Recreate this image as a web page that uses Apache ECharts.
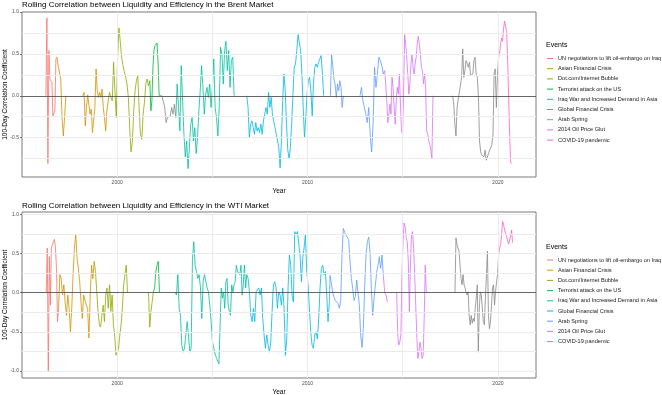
<!DOCTYPE html>
<html><head><meta charset="utf-8">
<script src="https://cdn.jsdelivr.net/npm/echarts@6/dist/echarts.min.js"></script>
<style>html,body{margin:0;padding:0;background:#fff}#c{width:662px;height:395px}</style>
</head><body><div id="c"></div>
<script>
// ---------- categories ----------
const events = ["UN negotiations to lift oil-embargo on Iraq","Asian Financial Crisis","Dot.com/Internet Bubble","Terrorist attack on the US","Iraq War and Increased Demand in Asia","Global Financial Crisis","Arab Spring","2014 Oil Price Glut","COVID-19 pandemic"];
const eventColors = ["#F8766D","#D39200","#93AA00","#00BA38","#00C19F","#00B9E3","#619CFF","#DB72FB","#FF61C3"];
const noEventColor = "#8A8A8A";
const titles = ["Rolling Correlation between Liquidity and Efficiency in the Brent Market","Rolling Correlation between Liquidity and Efficiency in the WTI Market"];
const xLabels = [2000, 2010, 2020];

// ---------- Brent series values (evenly sampled between start and end year) ----------
const brentUN = [0,0.93,-0.81,0.54,0.20,0.22,0.16,-0.24,-0.22,-0.18,0.44,0.46];
const brentAsian1 = [0.46,0.36,0.34,0.20,-0.26,-0.48,-0.26,0];
const brentAsian2 = [0,0.04,-0.36,-0.14,0.01,0.03,-0.22,-0.16,-0.44,-0.46,-0.14,0.32,0.06,-0.02,0.04,-0.02,0.08,-0.14,-0.26,-0.42,-0.18];
const brentDotcom = [-0.18,-0.06,0.04,-0.02,-0.06,0.40,0.06,-0.26,0.46,0.81,0.65,0.46,0.36,0.29,0.22,0.14,-0.02,-0.38,-0.67,-0.54,-0.18,0.06,0.18,0.24,-0.14,-0.46,-0.52,-0.22,-0.08,0.14,0.20,0.12,0.18];
const brentTerror = [0.18,-0.18,-0.06,0.34,0.54,0.60,0.58,0.63,0.38,0];
const brentNone1 = [0,0,0,0.01,-0.14,-0.32,-0.26,-0.28,-0.24,-0.14,-0.22,-0.10,-0.26];
const brentIraq = [-0.26,0.14,-0.14,-0.42,0.36,-0.06,-0.46,-0.73,-0.54,-0.87,-0.62,-0.34,-0.26,-0.54,-0.38,-0.69,-0.50,-0.18,0.06,0.36,0.10,-0.22,0.02,0.10,-0.02,0.14,-0.14,0.10,0.44,-0.14,-0.26,-0.48,-0.14,0.58,0.50,0.14,0.54,0.65,0.30,0.54,0.10,0.42,0.46,0];
const brentGFC = [0,-0.14,-0.50,-0.34,-0.30,-0.38,-0.46,-0.32,-0.42,-0.38,-0.44,-0.34,-0.46,-0.30,-0.30,-0.14,-0.22,0.04,-0.14,-0.02,-0.22,-0.30,-0.38,-0.46,-0.54,-0.62,-0.86,-0.54,-0.06,0.26,0.06,-0.34,-0.65,-0.75,-0.62,-0.34,0.02,0.34,0.38,0.54,0.73,0.73,0.54,0.26,-0.14,-0.50,-0.26,0.02,0.18,0.22,0.06,-0.24,0.14,0.34,0.38,0.34,0.40,0.38,0.48,0.26,0];
const brentArab1 = [0,0.50,0.36,0.20,0.14,-0.02,0.14,0.06,0.18,0.10,-0.14,0];
const brentArab2 = [0,0.10,-0.06,-0.14,-0.22,-0.32,-0.14,-0.46,-0.67,-0.34,0.34,0.10,0.26,0.46,0.42,0.36,0.26,0.30];
const brentGlut = [0.30,0.14,-0.06,-0.32,-0.22,-0.10,-0.22,0.22,0.10,-0.14,-0.34,-0.06,0.10,0.02,0.26,-0.10,-0.42,-0.46,0.02,0.73,0.62,0.46,0.26,0.02,0.14,0.38,0.50,0.34,0.26,0.38,0.46,0.62,0.71,0.62,0.50,0.34,0.30,0.14,0.26,0.10,-0.42,-0.46,-0.54,-0.58,-0.65,-0.75,0];
const brentNone2 = [0,-0.10,-0.34,-0.48,-0.14,-0.04,0.04,0.06,0.22,0.56,0.22,0.30,0.42,0.38,0.34,0.40,0.24,0.26,0.26,0.42,0.46,0.26,0.22,0,-0.54,-0.67,-0.71,-0.69,-0.73,-0.65,-0.77,-0.79,-0.69,-0.65,-0.62,-0.58,-0.46,0.26,0.32,-0.14,0.26,0.46];
const brentCovid = [0.46,0.50,0.62,0.69,0.65,0.81,0.89,0.91,0.77,0.46,0.02,-0.42,-0.79,-0.81];

// ---------- WTI series values ----------
const wtiUN = [0,0.57,-1.01,0.46,-0.16,0.57,0.61,0.65,0.68,0.57,0.31,-0.37,-0.20];
const wtiAsian = [-0.20,0.23,0.18,-0.03,0.10,-0.12,-0.29,-0.03,-0.20,-0.50,-0.20,0.23,0.57,0.74,0.44,0.31,0.14,-0.12,-0.33,-0.03,-0.03,-0.16,-0.20,-0.58,-0.03,0.35,0.18,0.40];
const wtiDotcom1 = [0.40,0.27,0.01,-0.24,-0.41,-0.44,-0.29,-0.16,-0.37,-0.03,0.06,-0.20,0.10,-0.24,-0.03,-0.41,-0.54,-0.80,-0.76,-0.71,-0.54,-0.41,-0.20,0.10,0.23,0.35,0];
const wtiDotcom2 = [0,-0.44,-0.24,-0.12,0.01];
const wtiTerror = [0.01,0.06,0.27,0.35,0.40,0];
const wtiIraq1 = [0,-0.03,0.23,-0.20,-0.29,-0.67,-0.76,-0.71,-0.54,-0.37,-0.54,-0.76,-0.71,0.44,0.65,0.35,0.27,0.18,0.23,0.06,-0.33,0.14,0.23,0.23,0.06,0.01,-0.16,-0.37,-0.63,-0.71];
const wtiIraq2 = [-0.80,-0.84,-0.86,-0.91,-0.41,0.06,-0.07,0.01,-0.20,0.14,0.18,-0.16,-0.24,-0.29,0.10,0.01,0.10,0.14,0.35,0.27,0.27,0.23,0.35,-0.03,0.10,0.35,0.06,0.23];
const wtiGFC = [0.23,0.18,0.01,-0.29,-0.37,-0.20,-0.37,0.01,0.01,0.06,-0.03,0.06,-0.33,-0.54,-0.71,-0.54,-0.67,-0.76,-0.63,-0.24,0.10,0.14,0.06,-0.20,0.01,-0.03,-0.16,0.06,-0.20,-0.80,-0.59,0.06,0.48,0.35,-0.03,-0.12,0.78,0.74,0.78,0.76,0.48,0.14,0.44,0.57,0.74,0.27,0.10,-0.20,-0.50,-0.67,-0.71,-0.54,-0.50,-0.59,-0.33,0.06,0.31,0.35,0.23,0.27,-0.03,-0.37,-0.12];
const wtiArab = [0.22,0.12,0.0,-0.06,-0.10,-0.08,-0.14,-0.20,-0.10,0.50,0.82,0.77,0.73,0.71,0.68,0.39,0.18,0.05,-0.10,-0.05,0.16,0.14,-0.16,-0.55,-0.70,-0.46,0.09,0.48,0.65,0.71,0.52,0.05,-0.29,-0.08,0.09,0.26,0.35,0.46,0.31,0.48,0.22];
const wtiGlut1 = [0.22,0.01,-0.03,-0.12];
const wtiGlut2 = [0,-0.54,-0.67,-0.63,-0.54,0.23,0.65,0.89,0.85,0.70,0.65,0.40,-0.24,0.35,0.74,0.78,0.57,0.23,-0.16,-0.54,-0.84,-0.76,-0.63,-0.71,-0.84,-0.80,-0.33,0.35,0];
const wtiNone = [0,0.70,0.61,0.57,0.53,0.35,0.18,0.10,0.23,0.10,0.06,0,-0.03,0.01,-0.29,-0.41,-0.29,-0.39,-0.33,-0.37,-0.20,-0.07,0.10,-0.76,-0.20,0.01,-0.03,-0.20,-0.37,-0.41,-0.07,0.23,0.53,-0.29,-0.46,-0.37,-0.16,0.06,0.10,-0.16,0.01,0.14,0.23,0.48];
const wtiCovid = [0.48,0.57,0.61,0.74,0.91,0.87,0.80,0.76,0.72,0.66,0.62,0.60,0.72,0.80,0.64];

// segment tables: [event index (-1 = none), start year, end year, values]
const brentSegments = [
  [0,1996.256,1996.833,brentUN],[1,1996.833,1997.305,brentAsian1],[1,1998.198,1999.458,brentAsian2],
  [2,1999.458,2001.715,brentDotcom],[3,2001.715,2002.205,brentTerror],[-1,2002.205,2003.080,brentNone1],
  [4,2003.080,2006.142,brentIraq],[5,2006.807,2010.849,brentGFC],[6,2011.199,2011.881,brentArab1],
  [6,2012.756,2014.051,brentArab2],[7,2014.051,2016.588,brentGlut],[-1,2017.620,2020.035,brentNone2],
  [8,2020.035,2020.717,brentCovid]
];
const wtiSegments = [
  [0,1996.273,1996.920,wtiUN],[1,1996.920,1998.793,wtiAsian],[2,1998.793,2000.542,wtiDotcom1],
  [2,2001.645,2001.901,wtiDotcom2],[3,2001.901,2002.222,wtiTerror],[4,2003.045,2005.075,wtiIraq1],
  [4,2005.162,2006.807,wtiIraq2],[5,2006.807,2011.146,wtiGFC],[6,2011.181,2013.981,wtiArab],
  [7,2013.981,2014.191,wtiGlut1],[7,2014.681,2016.238,wtiGlut2],[-1,2017.743,2020.035,wtiNone],
  [8,2020.035,2020.770,wtiCovid]
];

const FONT = "'Liberation Sans', Arial, sans-serif";

function buildSeries(segs, gi) {
  const out = [];
  let prev = null;
  segs.forEach(([ev, y0, y1, vals]) => {
    const n = vals.length;
    const pts = vals.map((v, i) => [y0 + (y1 - y0) * i / (n - 1), v]);
    if (prev && y0 - prev[0] < 0.1) pts.unshift(prev);
    prev = pts[pts.length - 1];
    const col = ev >= 0 ? eventColors[ev] : noEventColor;
    out.push({
      type: 'line', name: ev >= 0 ? events[ev] : 'No event',
      xAxisIndex: gi, yAxisIndex: gi, data: pts,
      symbol: 'none', showSymbol: false, silent: true, z: 4,
      lineStyle: { width: 0.9, color: col, opacity: 0.9 }, itemStyle: { color: col },
      emphasis: { disabled: true }
    });
  });
  return out;
}

function refSeries(gi, yGrid) {
  const xGrid = [2000, 2005, 2010, 2015, 2020];
  return [{
    type: 'line', name: 'grid' + gi, xAxisIndex: gi, yAxisIndex: gi, data: [], silent: true, z: 1,
    markLine: { silent: true, symbol: ['none', 'none'], label: { show: false }, animation: false,
      lineStyle: { color: '#EBEBEB', width: 1, type: 'solid' },
      data: yGrid.map(v => ({ yAxis: v })).concat(xGrid.map(v => ({ xAxis: v }))) }
  }, {
    type: 'line', name: 'zero' + gi, xAxisIndex: gi, yAxisIndex: gi, data: [], silent: true, z: 2,
    markLine: { silent: true, symbol: ['none', 'none'], label: { show: false }, animation: false,
      lineStyle: { color: '#555555', width: 0.9, type: 'solid' }, data: [{ yAxis: 0 }] }
  }];
}

function xAxisCfg(gi) {
  return {
    gridIndex: gi, type: 'value', min: 1995, max: 2022, interval: 5,
    name: 'Year', nameLocation: 'middle', nameGap: 11, nameMoveOverlap: false,
    nameTextStyle: { fontFamily: FONT, fontSize: 6.5, color: '#000' },
    axisLine: { show: false }, axisTick: { show: false }, splitLine: { show: false },
    axisLabel: { fontFamily: FONT, fontSize: 5, color: '#4D4D4D', margin: 3,
      formatter: v => xLabels.includes(v) ? String(v) : '' }
  };
}
function yAxisCfg(gi, mn, mx, showMax) {
  return {
    gridIndex: gi, type: 'value', min: mn, max: mx, splitNumber: 4,
    name: '100-Day Correlation Coefficient', nameLocation: 'middle', nameGap: 13, nameRotate: 90, nameMoveOverlap: false,
    nameTextStyle: { fontFamily: FONT, fontSize: 6.5, color: '#000' },
    axisLine: { show: false }, splitLine: { show: false },
    axisTick: { show: true, length: 2, lineStyle: { color: '#4D4D4D', width: 0.8 } },
    axisLabel: { fontFamily: FONT, fontSize: 5, color: '#4D4D4D', margin: 3, showMinLabel: false, showMaxLabel: showMax,
      formatter: v => v.toFixed(1) }
  };
}
function legendCfg(top) {
  return {
    orient: 'vertical', left: 547, top: top, padding: 0, itemGap: 3.2,
    itemWidth: 6, itemHeight: 1, icon: 'rect', selectedMode: false,
    data: events,
    textStyle: { fontFamily: FONT, fontSize: 5.6, color: '#1A1A1A', lineHeight: 7 }
  };
}

const chart = echarts.init(document.getElementById('c'), null, { renderer: 'canvas' });
chart.setOption({
  animation: false,
  backgroundColor: '#ffffff',
  title: [
    { text: titles[0], left: 22, top: 0.5, padding: 0, textStyle: { fontFamily: FONT, fontSize: 8, fontWeight: 'normal', color: '#000' } },
    { text: titles[1], left: 22, top: 201.5, padding: 0, textStyle: { fontFamily: FONT, fontSize: 8, fontWeight: 'normal', color: '#000' } },
    { text: 'Events', left: 546, top: 42, padding: 0, textStyle: { fontFamily: FONT, fontSize: 7, fontWeight: 'normal', color: '#000' } },
    { text: 'Events', left: 546, top: 244, padding: 0, textStyle: { fontFamily: FONT, fontSize: 7, fontWeight: 'normal', color: '#000' } }
  ],
  legend: [legendCfg(55), legendCfg(256.5)],
  grid: [
    { left: 22, right: 126, top: 12, height: 165, show: true, borderColor: '#7A7A7A', borderWidth: 1, backgroundColor: 'transparent', containLabel: false, outerBoundsMode: 'none' },
    { left: 22, right: 126, top: 212, height: 166, show: true, borderColor: '#7A7A7A', borderWidth: 1, backgroundColor: 'transparent', containLabel: false, outerBoundsMode: 'none' }
  ],
  xAxis: [xAxisCfg(0), xAxisCfg(1)],
  yAxis: [yAxisCfg(0, -0.97, 1.0, true), yAxisCfg(1, -1.09, 1.03, false)],
  series: [].concat(
    refSeries(0, [-0.75, -0.5, -0.25, 0.25, 0.5, 0.75]),
    refSeries(1, [-1.0, -0.75, -0.5, -0.25, 0.25, 0.5, 0.75, 1.0]),
    buildSeries(brentSegments, 0),
    buildSeries(wtiSegments, 1)
  )
});
</script>
</body></html>
